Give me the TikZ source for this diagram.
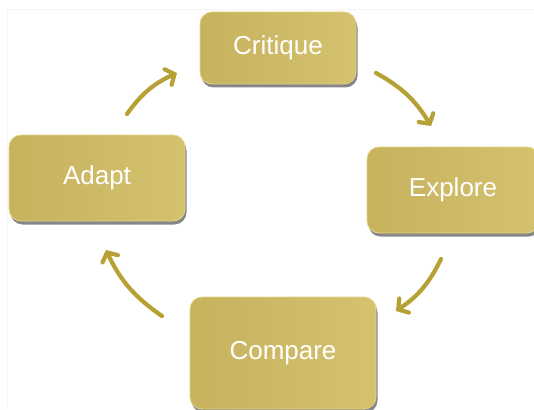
\documentclass[tikz,border=0pt]{standalone}
\usepackage{fontspec}
\setsansfont{Liberation Sans}
\usetikzlibrary{arrows.meta,shadows}

\definecolor{goldfill}{RGB}{199,178,94}
\definecolor{goldlight}{RGB}{212,194,110}
\definecolor{goldedge}{RGB}{228,212,132}
\definecolor{goldarrow}{RGB}{183,160,52}

\tikzset{
    goldbox/.style={
        rounded corners=12pt, inner sep=0pt,
        left color=goldfill, right color=goldlight,
        draw=goldedge, line width=0.8pt,
        drop shadow={shadow xshift=1.5pt, shadow yshift=-3.5pt, opacity=0.55, fill=black!85},
        text=white, font=\sffamily\fontsize{26}{26}\selectfont
    },
    cyclearrow/.style={
        draw=goldarrow, line width=4.2pt, line cap=round,
        -{Straight Barb[length=7pt, width=17pt, line cap=round]}, bend left=15
    }
}

\begin{document}
\begin{tikzpicture}[x=1pt, y=-1pt]

% page
\clip (0, 0) rectangle (534, 409);
\fill [white] (0, 0) rectangle (534, 409);
\draw [black!4, line width=0.8pt] (7, 409) -- (7, 9) -- (534, 9);


% boxes
\node [goldbox, minimum width=156pt, minimum height=72pt] (critique) at (278, 48) {Critique};
\node [goldbox, minimum width=172pt, minimum height=86pt] (explore) at (453, 190) {Explore};
\node [goldbox, minimum width=186pt, minimum height=112pt] (compare) at (283, 353) {Compare};
\node [goldbox, minimum width=176pt, minimum height=86pt] (adapt) at (97, 178) {Adapt};


% arrow ends
\coordinate (critique-out) at (376, 73);
\coordinate (explore-in) at (431, 126);
\coordinate (explore-out) at (441, 259);
\coordinate (compare-in) at (396, 311);
\coordinate (compare-out) at (162, 316);
\coordinate (adapt-in) at (106, 250);
\coordinate (adapt-out) at (127, 114);
\coordinate (critique-in) at (177, 73);


% cycle
\begin{scope}
    \draw [cyclearrow] (critique-out) to (explore-in);
    \draw [cyclearrow] (explore-out) to (compare-in);
    \draw [cyclearrow] (compare-out) to (adapt-in);
    \draw [cyclearrow] (adapt-out) to (critique-in);
\end{scope}

\end{tikzpicture}
\end{document}
